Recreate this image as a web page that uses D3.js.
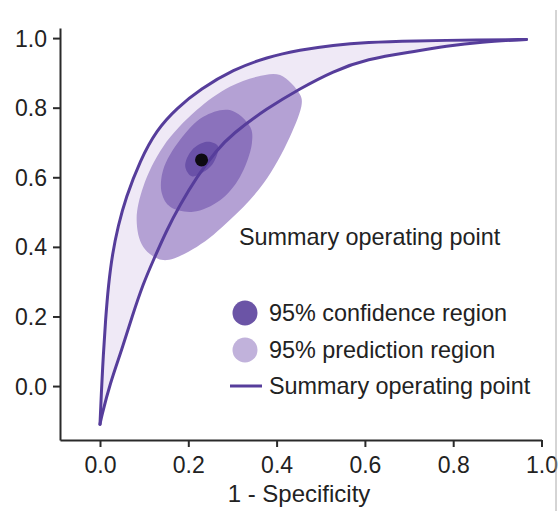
<!DOCTYPE html>
<html>
<head>
<meta charset="utf-8">
<script src="https://cdn.jsdelivr.net/npm/d3@7"></script>
<style>
  html, body { margin: 0; padding: 0; background: #fff; }
  svg text { font-family: "Liberation Sans", Arial, sans-serif; fill: #222; }
</style>
</head>
<body>
<div id="chart"></div>
<script>
const xTicks = [0, 0.2, 0.4, 0.6, 0.8, 1.0];
const yTicks = [0, 0.2, 0.4, 0.6, 0.8, 1.0];

// SROC curve bounds (1 - specificity, sensitivity)
const upperFpr = [0, 0.003, 0.0075, 0.0125, 0.019, 0.028, 0.041, 0.058, 0.091, 0.128, 0.174, 0.227, 0.302, 0.378, 0.453, 0.528, 0.604, 0.709, 0.861, 0.966];
const upperTpr = [-0.11, -0.02, 0.09, 0.19, 0.29, 0.38, 0.46, 0.54, 0.649, 0.736, 0.799, 0.853, 0.91, 0.945, 0.966, 0.98, 0.988, 0.992, 0.995, 0.996];
const lowerFpr = [0, 0.003, 0.0227, 0.049, 0.0725, 0.098, 0.121, 0.151, 0.181, 0.219, 0.264, 0.299, 0.378, 0.453, 0.528, 0.604, 0.709, 0.785, 0.861, 0.966];
const lowerTpr = [-0.11, -0.09, 0.008, 0.103, 0.199, 0.295, 0.362, 0.448, 0.52, 0.601, 0.678, 0.724, 0.798, 0.855, 0.905, 0.940, 0.961, 0.977, 0.989, 0.996];

// regions around the summary point
const predFpr = [0.408, 0.453, 0.457, 0.430, 0.370, 0.294, 0.219, 0.143, 0.098, 0.083, 0.098, 0.143, 0.219, 0.294, 0.355];
const predTpr = [0.894, 0.838, 0.812, 0.716, 0.582, 0.477, 0.400, 0.362, 0.400, 0.477, 0.573, 0.688, 0.793, 0.860, 0.889];
const confFpr = [0.294, 0.340, 0.344, 0.317, 0.272, 0.211, 0.159, 0.140, 0.143, 0.181, 0.234];
const confTpr = [0.793, 0.745, 0.697, 0.601, 0.534, 0.501, 0.515, 0.554, 0.621, 0.707, 0.774];
const coreFpr = [0.242, 0.267, 0.258, 0.238, 0.208, 0.193, 0.208];
const coreTpr = [0.702, 0.690, 0.644, 0.618, 0.603, 0.632, 0.678];
const summaryPoint = [0.23, 0.65];

const annotation = "Summary operating point";
const legendLabels = ["95% confidence region", "95% prediction region", "Summary operating point"];
const xLabel = "1 - Specificity";

const W = 560, H = 511;
const svg = d3.select("#chart").append("svg").attr("width", W).attr("height", H);

const x = d3.scaleLinear().domain([-0.0906, 1.0]).range([60, 541.5]);
const y = d3.scaleLinear().domain([-0.155, 1.029]).range([440, 28]);

const zip = (a, b) => a.map((v, i) => [v, b[i]]);
const line = d3.line().x(d => x(d[0])).y(d => y(d[1])).curve(d3.curveBasis);
const closed = d3.line().x(d => x(d[0])).y(d => y(d[1])).curve(d3.curveCatmullRomClosed.alpha(0.5));

const upper = zip(upperFpr, upperTpr);
const lower = zip(lowerFpr, lowerTpr);

// band between curves
const bandPath = line(upper) + line(lower.slice().reverse()).replace(/^M/, "L") + "Z";
svg.append("path").attr("d", bandPath).attr("fill", "#efe9f6");

svg.append("path").attr("d", closed(zip(predFpr, predTpr))).attr("fill", "#b4a1d4");
svg.append("path").attr("d", closed(zip(confFpr, confTpr))).attr("fill", "#8b72bc");
svg.append("path").attr("d", closed(zip(coreFpr, coreTpr))).attr("fill", "#6a51a8");

[upper, lower].forEach(c => {
  svg.append("path").attr("d", line(c))
    .attr("fill", "none").attr("stroke", "#563d9b").attr("stroke-width", 3)
    .attr("stroke-linecap", "round");
});

svg.append("circle")
  .attr("cx", x(summaryPoint[0])).attr("cy", y(summaryPoint[1]))
  .attr("r", 6.5).attr("fill", "#0d0a12");

// axes
const xAxis = svg.append("g").attr("transform", "translate(0,440)")
  .call(d3.axisBottom(x).tickValues(xTicks).tickFormat(d3.format(".1f")).tickSize(7).tickSizeOuter(0));
const yAxis = svg.append("g").attr("transform", "translate(60,0)")
  .call(d3.axisLeft(y).tickValues(yTicks).tickFormat(d3.format(".1f")).tickSize(7).tickSizeOuter(0));

[xAxis, yAxis].forEach(a => {
  a.select(".domain").attr("stroke", "#2a2a2a").attr("stroke-width", 2);
  a.selectAll(".tick line").attr("stroke", "#2a2a2a").attr("stroke-width", 2);
  a.selectAll(".tick text").style("font-size", "23px").attr("fill", "#222")
    .style("font-family", "'Liberation Sans', Arial, sans-serif");
});
xAxis.selectAll(".tick text").attr("dy", "0.95em").attr("y", 11);
yAxis.selectAll(".tick text").attr("x", -13).attr("dy", "0.35em");

svg.append("text").attr("x", 299).attr("y", 502).attr("text-anchor", "middle")
  .style("font-size", "24px").text(xLabel);

svg.append("text").attr("x", 239).attr("y", 245).style("font-size", "23.4px").text(annotation);

// legend
const legendY = [313, 350, 386];
svg.append("circle").attr("cx", 245).attr("cy", legendY[0]).attr("r", 12.5).attr("fill", "#6b54a6");
svg.append("circle").attr("cx", 245).attr("cy", legendY[1]).attr("r", 12.5).attr("fill", "#c1b2db");
svg.append("line").attr("x1", 230).attr("x2", 262).attr("y1", legendY[2]).attr("y2", legendY[2])
  .attr("stroke", "#563d9b").attr("stroke-width", 3);
legendLabels.forEach((t, i) => {
  svg.append("text").attr("x", 269).attr("y", legendY[i] + 7.5)
    .style("font-size", "23.4px").text(t);
});

// frame edge on the right
svg.append("line").attr("x1", 556).attr("x2", 556).attr("y1", 10).attr("y2", H)
  .attr("stroke", "#aaa").attr("stroke-width", 1);
</script>
</body>
</html>
